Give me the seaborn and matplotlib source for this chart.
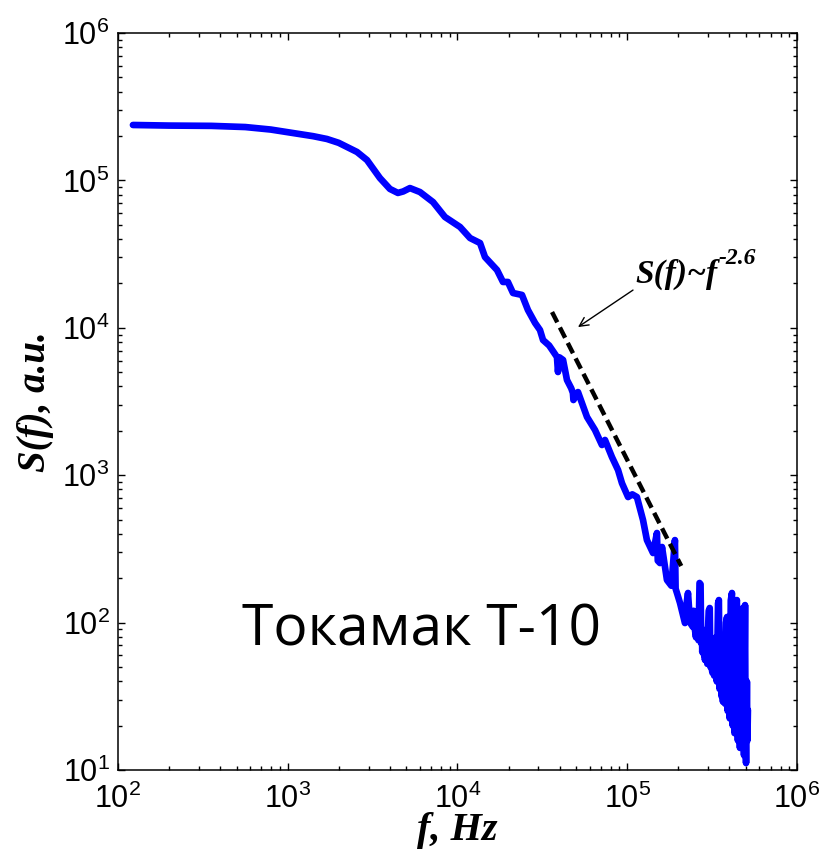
import numpy as np
import pandas as pd
import matplotlib
matplotlib.use("Agg")
import matplotlib.pyplot as plt
from matplotlib.ticker import LogLocator, FuncFormatter, NullFormatter
import seaborn as sns

# ---- data (log10 values) ----
log_f = [2.088, 2.30, 2.55, 2.75, 2.90, 3.05, 3.15, 3.231, 3.30, 3.408, 3.467,
         3.543, 3.602, 3.649, 3.68, 3.720, 3.779, 3.856, 3.926, 4.015, 4.074,
         4.133, 4.162, 4.233, 4.268, 4.297, 4.327, 4.380, 4.415, 4.457, 4.486,
         4.504, 4.540, 4.586, 4.592, 4.600, 4.622, 4.645, 4.670, 4.680, 4.683,
         4.710, 4.763, 4.810, 4.851, 4.869, 4.910, 4.946, 4.969, 5.005, 5.030,
         5.057, 5.093, 5.116, 5.152, 5.175, 5.180, 5.193, 5.205, 5.234, 5.260,
         5.281, 5.285, 5.293, 5.311, 5.340, 5.352, 5.358, 5.370, 5.387,
         5.391, 5.395, 5.399, 5.405, 5.410, 5.415, 5.420, 5.426, 5.432, 5.436,
         5.440, 5.442, 5.448, 5.452, 5.455, 5.458, 5.462, 5.465, 5.468, 5.472,
         5.476, 5.480, 5.486, 5.490, 5.493, 5.496, 5.499, 5.502, 5.505, 5.508,
         5.512, 5.517, 5.522, 5.525, 5.528, 5.531, 5.535, 5.540, 5.544, 5.547,
         5.550, 5.553, 5.556, 5.560, 5.564, 5.567, 5.570, 5.573, 5.576, 5.579,
         5.582, 5.588, 5.592, 5.595, 5.598, 5.601, 5.604, 5.607, 5.610, 5.617,
         5.622, 5.625, 5.628, 5.630, 5.632, 5.635, 5.640, 5.646, 5.652, 5.655,
         5.658, 5.661, 5.664, 5.667, 5.670, 5.673, 5.676, 5.679, 5.682, 5.685,
         5.688, 5.691, 5.694, 5.697, 5.700, 5.705, 5.708, 5.711]
log_S = [5.376, 5.372, 5.370, 5.362, 5.345, 5.318, 5.300, 5.281, 5.255, 5.193, 5.138,
         5.016, 4.942, 4.915, 4.925, 4.948, 4.921, 4.853, 4.752, 4.684, 4.609,
         4.575, 4.480, 4.392, 4.311, 4.311, 4.236, 4.223, 4.121, 4.033, 3.985,
         3.917, 3.880, 3.802, 3.700, 3.800, 3.782, 3.646, 3.590, 3.558, 3.510,
         3.564, 3.395, 3.307, 3.205, 3.239, 3.123, 3.035, 2.946, 2.852, 2.870,
         2.852, 2.696, 2.560, 2.472, 2.608, 2.420, 2.404, 2.513, 2.289, 2.250,
         2.560, 2.230, 2.201, 2.133, 1.997, 2.150, 2.201, 2.000, 1.970,
         2.080, 2.050, 1.950, 1.900, 2.000, 2.050, 1.880, 2.269, 2.260, 1.860,
         1.950, 1.800, 1.950, 1.780, 1.900, 1.746, 1.950, 1.850, 1.760, 1.720,
         1.950, 2.080, 2.099, 1.700, 1.900, 1.800, 1.680, 1.660, 1.850, 1.750,
         1.640, 1.678, 1.900, 1.700, 1.600, 1.850, 2.130, 2.153, 1.550, 1.800,
         1.750, 1.560, 1.500, 1.600, 1.463, 1.800, 1.900, 1.500, 1.450, 1.850,
         2.000, 2.038, 1.400, 1.700, 1.850, 1.600, 1.350, 1.750, 2.150, 2.201,
         1.300, 1.800, 1.950, 1.550, 1.250, 1.292, 2.100, 2.153, 1.200, 1.700,
         1.950, 1.500, 1.150, 1.650, 2.050, 1.400, 1.156, 1.800, 2.100, 1.450,
         1.100, 1.700, 2.119, 1.300, 1.047, 1.600, 1.200, 1.407]

fit_log_f = [4.557, 5.318]
fit_log_S = [4.107, 2.384]

x_ticks = [1e2, 1e3, 1e4, 1e5, 1e6]
y_ticks = [1e1, 1e2, 1e3, 1e4, 1e5, 1e6]

spec = pd.DataFrame({"f": np.power(10.0, log_f), "S": np.power(10.0, log_S)})
fit = pd.DataFrame({"f": np.power(10.0, fit_log_f), "S": np.power(10.0, fit_log_S)})

sns.set_style("ticks")
plt.rcParams["mathtext.fontset"] = "custom"
plt.rcParams["mathtext.rm"] = "Liberation Sans"
plt.rcParams["font.family"] = ["Liberation Sans", "DejaVu Sans"]
for k in ["text.color", "axes.labelcolor", "xtick.color", "ytick.color", "axes.edgecolor"]:
    plt.rcParams[k] = "black"

fig = plt.figure(figsize=(8.21, 8.58), dpi=100)
ax = fig.add_axes([0.14373, 0.10256, 0.8270, 0.85897])

sns.lineplot(data=spec, x="f", y="S", ax=ax, color="#0000ff", linewidth=4.8,
             estimator=None, sort=False, solid_joinstyle="round", solid_capstyle="round")
sns.lineplot(data=fit, x="f", y="S", ax=ax, color="black", linewidth=3.2,
             estimator=None, sort=False, linestyle=(0, (2.6, 1.3)))

ax.set_xscale("log")
ax.set_yscale("log")
ax.set_xlim(1e2, 1e6)
ax.set_ylim(1e1, 1e6)
ax.set_xticks(x_ticks)
ax.set_yticks(y_ticks)
fmt = FuncFormatter(lambda v, p: r"$\mathrm{10^{%d}}$" % int(round(np.log10(v))))
ax.xaxis.set_major_formatter(fmt)
ax.yaxis.set_major_formatter(fmt)
ax.xaxis.set_minor_locator(LogLocator(base=10, subs=np.arange(2, 10)))
ax.yaxis.set_minor_locator(LogLocator(base=10, subs=np.arange(2, 10)))
ax.xaxis.set_minor_formatter(NullFormatter())
ax.yaxis.set_minor_formatter(NullFormatter())

ax.tick_params(which="both", direction="in", top=True, right=True, width=1.0, color="black",
               labelcolor="black")
ax.tick_params(which="major", length=5, labelsize=22)
ax.tick_params(axis="x", which="major", pad=10)
ax.tick_params(axis="y", which="major", pad=6)
ax.tick_params(which="minor", length=3)
for s in ax.spines.values():
    s.set_linewidth(1.1)
    s.set_color("black")

serif_bi = dict(family=["Liberation Serif", "DejaVu Serif"], weight="bold", style="italic")
ax.set_xlabel("f, Hz", fontsize=29, labelpad=-2, **serif_bi)
ax.set_ylabel("S(f), a.u.", fontsize=28, labelpad=6, **serif_bi)

t = ax.text(10 ** 5.046, 10 ** 4.304, "S(f)~f", fontsize=24, ha="left", va="baseline", **serif_bi)
ax.annotate("-2.6", xy=(1.0, 0.68), xycoords=t, xytext=(1, 0), textcoords="offset points",
            fontsize=17, ha="left", va="bottom", **serif_bi)
ax.annotate("", xy=(10 ** 4.710, 10 ** 4.005), xytext=(10 ** 5.034, 10 ** 4.256),
            arrowprops=dict(arrowstyle="->", color="black", lw=1.0,
                            mutation_scale=16, shrinkA=0, shrinkB=0))

ax.text(10 ** 2.730, 10 ** 1.848, "Токамак Т-10", fontsize=41,
        family=["Open Sans", "DejaVu Sans"], ha="left", va="baseline", color="black")

fig.savefig("out.png", dpi=100)
